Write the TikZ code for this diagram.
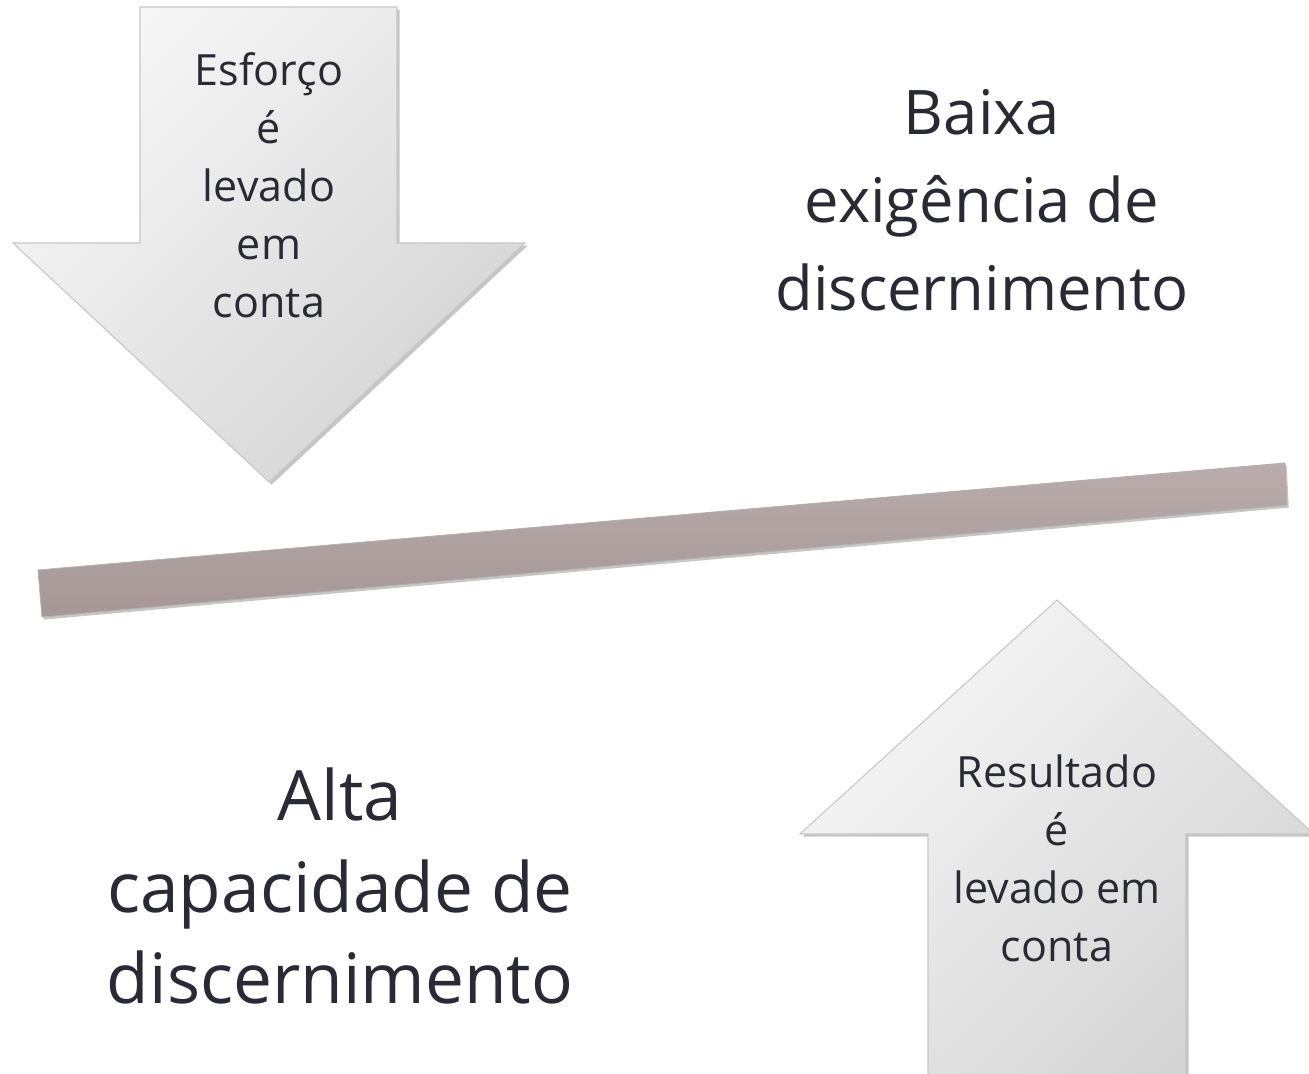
\documentclass[tikz,border=0pt]{standalone}
\usepackage{fontspec}
\setmainfont{Open Sans}
\usetikzlibrary{shadows}

\definecolor{arrowlight}{HTML}{F6F6F6}
\definecolor{arrowdark}{HTML}{D4D4D4}
\definecolor{beamtop}{HTML}{BAACAC}
\definecolor{beambottom}{HTML}{A69696}
\definecolor{textdark}{HTML}{2A2A35}

\begin{document}
\begin{tikzpicture}[
		x=0.02cm,
		y=-0.02cm,
		balance arrow/.style={
			draw=black!22,
			line width=0.6pt,
			left color=arrowlight,
			right color=arrowdark,
			shading angle=45,
			drop shadow={opacity=0.45, shadow xshift=1.5pt, shadow yshift=-1.5pt},
		},
		beam/.style={
			draw=black!30,
			line width=0.5pt,
			top color=beamtop,
			bottom color=beambottom,
			drop shadow={opacity=0.45, shadow xshift=1pt, shadow yshift=-1.5pt},
		},
		arrow text/.style={
			align=center,
			text=textdark,
			inner sep=0pt,
			font=\fontsize{24.5}{33}\selectfont,
		},
		side text/.style={
			align=center,
			text=textdark,
			inner sep=0pt,
			font=\fontsize{35}{50}\selectfont,
		},
	]
		\useasboundingbox (0,0) rectangle (1309,1074);

		% arrow pointing down (esforco)
		\path[balance arrow]
			(140,7) -- (397,7) -- (397,243) -- (525,243)
			-- (269,482) -- (13,243) -- (140,243) -- cycle;

		% arrow pointing up (resultado)
		\path[balance arrow]
			(928,1090) -- (928,834) -- (800,834) -- (1057,600)
			-- (1314,834) -- (1186,834) -- (1186,1090) -- cycle;

		% the beam
		\path[beam]
			(38,570) -- (1285,463) -- (1287,505) -- (42,617) -- cycle;

		\node[arrow text] (esforco) at (269,185)
			{Esforço\\é\\levado\\em\\conta};
		\node[arrow text] (resultado) at (1057,858)
			{Resultado\\é\\levado em\\conta};
		\node[side text] (baixa) at (982,200)
			{Baixa\\exigência de\\discernimento};
		\node[side text, font=\fontsize{39.5}{52}\selectfont] (alta) at (340,886)
			{Alta\\capacidade de\\discernimento};
	\end{tikzpicture}
\end{document}
